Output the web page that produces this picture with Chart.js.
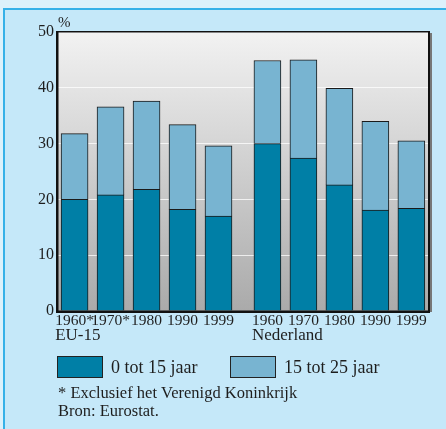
<!DOCTYPE html>
<html>
<head>
<meta charset="utf-8">
<script src="https://cdn.jsdelivr.net/npm/chart.js@4/dist/chart.umd.min.js"></script>
<style>
  html, body { margin: 0; padding: 0; background: #dcf1fb; }
  canvas { display: block; }
</style>
</head>
<body>
<canvas id="chart" width="446" height="429"></canvas>
<script>
'use strict'

//Data ---------------------------------------------------------
const groups = ['EU-15', 'Nederland'];
const tickLabels = ['1960*', '1970*', '1980', '1990', '1999', '1960', '1970', '1980', '1990', '1999'];
const seriesNames = ['0 tot 15 jaar', '15 tot 25 jaar'];
const age0to15 = [20.0, 20.8, 21.8, 18.2, 17.0, 30.0, 27.4, 22.6, 18.1, 18.4];
const age15to25 = [11.8, 15.8, 15.8, 15.2, 12.6, 14.9, 17.6, 17.3, 15.9, 12.1];
const yTicks = [0, 10, 20, 30, 40, 50];
const footnotes = ['* Exclusief het Verenigd Koninkrijk', 'Bron: Eurostat.'];

//Styles ---------------------------------------------------------
const darkBlue = '#007fa6';
const lightBlue = '#78b4d1';
const panelBlue = '#c5e8f9';
const serif = '"Liberation Serif", "DejaVu Serif", serif';
const textColor = '#1e1e1e';

// bars sit one unit apart, the second group a bit further right
const groupSize = 5;
const groupGap = 0.36;
const xPos = tickLabels.map((l, i) => i + (i >= groupSize ? groupGap : 0));

function toPoints(values) {
  return values.map((v, i) => ({ x: xPos[i], y: v }));
}

//Plugin ---------------------------------------------------------
const decor = {
  id: 'decor',
  beforeDraw(chart) {
    const ctx = chart.ctx;
    const area = chart.chartArea;
    ctx.save();
    ctx.fillStyle = '#dcf1fb';
    ctx.fillRect(0, 0, chart.width, chart.height);
    ctx.fillStyle = panelBlue;
    ctx.fillRect(4, 9, chart.width - 4, chart.height - 9);
    ctx.fillStyle = '#36b1e8';
    ctx.fillRect(3, 8, chart.width - 3, 2);
    ctx.fillRect(3, 8, 2, chart.height - 8);

    const grad = ctx.createLinearGradient(0, area.top, 0, area.bottom);
    grad.addColorStop(0, '#f2f2f2');
    grad.addColorStop(1, '#aaaaaa');
    ctx.fillStyle = grad;
    ctx.fillRect(area.left, area.top, area.right - area.left, area.bottom - area.top);
    ctx.restore();
  },
  afterDraw(chart) {
    const ctx = chart.ctx;
    const area = chart.chartArea;
    const xScale = chart.scales.x;
    ctx.save();

    // frame round the plot
    ctx.fillStyle = '#777';
    ctx.fillRect(area.right + 1, area.top + 1, 2, area.bottom - area.top);
    ctx.fillStyle = '#111';
    ctx.fillRect(area.left, area.top - 1, area.right - area.left, 1.5);
    ctx.fillRect(area.right - 1, area.top - 1, 2, area.bottom - area.top + 1);
    ctx.fillRect(area.left - 2, area.top - 1, 2.5, area.bottom - area.top + 3);
    ctx.fillRect(area.left - 2, area.bottom - 0.5, area.right - area.left + 3, 2.5);

    // unit
    ctx.fillStyle = textColor;
    ctx.font = '15px ' + serif;
    ctx.textAlign = 'left';
    ctx.textBaseline = 'alphabetic';
    ctx.fillText('%', 58, 27);

    // group names under the first tick of each group
    groups.forEach((g, gi) => {
      const i = gi * groupSize;
      const cx = xScale.getPixelForValue(xPos[i]);
      ctx.font = '15.5px ' + serif;
      const w = ctx.measureText(tickLabels[i]).width;
      ctx.font = '17px ' + serif;
      ctx.fillText(g, cx - w / 2, 340);
    });

    // legend
    const legendColors = [darkBlue, lightBlue];
    const boxX = [57, 230];
    ctx.font = '18px ' + serif;
    seriesNames.forEach((name, i) => {
      ctx.fillStyle = legendColors[i];
      ctx.fillRect(boxX[i], 356, 46, 22);
      ctx.strokeStyle = '#222';
      ctx.lineWidth = 1;
      ctx.strokeRect(boxX[i] + 0.5, 356.5, 45, 21);
      ctx.fillStyle = textColor;
      ctx.fillText(name, boxX[i] + 54, 373);
    });

    // footnotes
    ctx.font = '16.5px ' + serif;
    ctx.fillText(footnotes[0], 58, 398);
    ctx.fillText(footnotes[1], 58, 416);
    ctx.restore();
  }
};

//Chart ---------------------------------------------------------
const chart = new Chart(document.getElementById('chart'), {
  type: 'bar',
  data: {
    datasets: [
      {
        label: seriesNames[0],
        data: toPoints(age0to15),
        backgroundColor: darkBlue,
        borderColor: '#1a1a1a',
        borderWidth: 1,
        barThickness: 27,
        grouped: false
      },
      {
        label: seriesNames[1],
        data: toPoints(age15to25),
        backgroundColor: lightBlue,
        borderColor: '#1a1a1a',
        borderWidth: 1,
        barThickness: 27,
        grouped: false
      }
    ]
  },
  options: {
    responsive: false,
    animation: false,
    events: [],
    layout: { padding: { left: 0, top: 32, right: 17, bottom: 88 } },
    plugins: {
      legend: { display: false },
      tooltip: { enabled: false }
    },
    scales: {
      x: {
        type: 'linear',
        offset: false,
        min: -0.46,
        max: xPos[xPos.length - 1] + 0.49,
        grid: { display: false, drawTicks: false, offset: false },
        border: { display: false },
        afterBuildTicks(scale) {
          scale.ticks = xPos.map(v => ({ value: v }));
        },
        afterFit(scale) { scale.height = 30; },
        ticks: {
          autoSkip: false,
          maxRotation: 0,
          padding: 1,
          color: textColor,
          font: { family: serif, size: 15.5 },
          callback(value, index) { return tickLabels[index]; }
        }
      },
      y: {
        stacked: true,
        min: 0,
        max: 50,
        grid: { color: 'rgba(255,255,255,0.75)', lineWidth: 1, drawTicks: false },
        border: { display: false },
        afterBuildTicks(scale) {
          scale.ticks = yTicks.map(v => ({ value: v }));
        },
        afterFit(scale) { scale.width = 58; },
        ticks: {
          padding: 4,
          color: textColor,
          font: { family: serif, size: 16 }
        }
      }
    }
  },
  plugins: [decor]
});
</script>
</body>
</html>
